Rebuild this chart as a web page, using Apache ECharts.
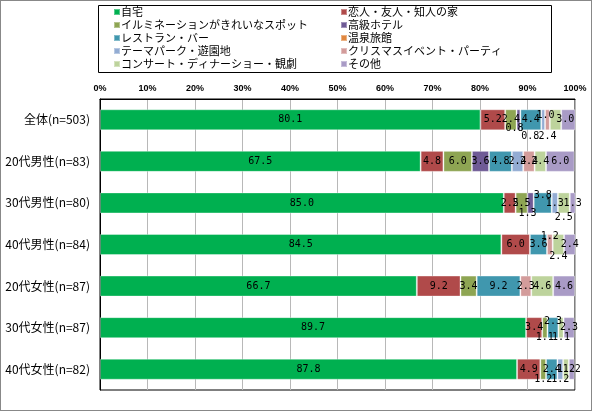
<!DOCTYPE html>
<html><head><meta charset="utf-8">
<script src="https://cdn.jsdelivr.net/npm/echarts@6/dist/echarts.min.js"></script>
<style>
html,body{margin:0;padding:0;background:#fff;}
#c{width:592px;height:411px;box-sizing:border-box;border:1px solid #888;}
</style></head>
<body><div id="c"></div>
<script>
const categories = ['全体(n=503)','20代男性(n=83)','30代男性(n=80)','40代男性(n=84)','20代女性(n=87)','30代女性(n=87)','40代女性(n=82)'];
const seriesNames = ['自宅','恋人・友人・知人の家','イルミネーションがきれいなスポット','高級ホテル','レストラン・バー','温泉旅館','テーマパーク・遊園地','クリスマスイベント・パーティ','コンサート・ディナーショー・観劇','その他'];
const jitaku     = [80.1, 67.5, 85.0, 84.5, 66.7, 89.7, 87.8];
const koibito    = [5.2, 4.8, 2.5, 6.0, 9.2, 3.4, 4.9];
const illumi     = [2.4, 6.0, 2.5, 0, 3.4, 1.1, 1.2];
const hotel      = [0.8, 3.6, 1.3, 0, 0, 0, 0];
const restaurant = [4.4, 4.8, 3.8, 3.6, 9.2, 2.3, 2.4];
const onsen      = [0, 0, 0, 0, 0, 0, 0];
const themepark  = [0.8, 2.4, 1.3, 0, 0, 0, 1.2];
const xmasEvent  = [1.0, 2.4, 0, 1.2, 2.3, 0, 0];
const concert    = [2.4, 2.4, 2.5, 2.4, 4.6, 1.1, 1.2];
const sonota     = [3.0, 6.0, 1.3, 2.4, 4.6, 2.3, 1.2];
const xTicks = ['0%','10%','20%','30%','40%','50%','60%','70%','80%','90%','100%'];

const allValues = [jitaku,koibito,illumi,hotel,restaurant,onsen,themepark,xmasEvent,concert,sonota];
const colors = ['#00B050','#B04A4A','#8EA553','#6F5B96','#4097AE','#E0873F','#93ACD3','#D39C9B','#BDD39C','#A99BC6'];
// label nudges (row,series) -> [dx,dy], emulating manually moved labels
const nudge = {
  '0,3':[-4,9], '0,6':[-13,17], '0,8':[-8,17], '0,7':[-2,-4], '0,9':[-3,0],
  '2,3':[-3,10], '2,8':[0,14], '2,4':[0,-8],
  '3,7':[0,-8], '3,8':[0,12],
  '5,2':[0,10], '5,8':[0,10], '5,4':[0,-6],
  '6,2':[0,10], '6,6':[0,10]
};

const series = allValues.map((vals, si) => ({
  name: seriesNames[si],
  type: 'bar',
  stack: 'total',
  barWidth: 21,
  itemStyle: {color: colors[si], borderColor: 'rgba(255,255,255,0.35)', borderWidth: 1},
  label: {
    show: true, position: 'inside', color: '#000',
    fontFamily: 'DejaVu Sans Mono', fontSize: 10,
    formatter: p => (p.value ? Number(p.value).toFixed(1) : '')
  },
  data: vals.map((v, ri) => {
    const o = {value: v === 0 ? null : v};
    const n = nudge[ri + ',' + si];
    if (n) o.label = {offset: n};
    return o;
  })
}));

function legendCol(names, left) {
  return {
    orient: 'vertical', left: left, top: 4.5, padding: 0,
    itemWidth: 6, itemHeight: 6, icon: 'rect', itemGap: 0,
    textStyle: {fontSize: 11, lineHeight: 13, color: '#000', fontFamily: 'Noto Sans CJK JP', padding: [0,0,0,-4]},
    data: names
  };
}

const chart = echarts.init(document.getElementById('c'), null, {renderer: 'canvas'});
chart.setOption({
  animation: false,
  legend: [
    legendCol([seriesNames[0], seriesNames[2], seriesNames[4], seriesNames[6], seriesNames[8]], 112),
    legendCol([seriesNames[1], seriesNames[3], seriesNames[5], seriesNames[7], seriesNames[9]], 339)
  ],
  graphic: [{
    type: 'rect', shape: {x: 97.5, y: 4.5, width: 453, height: 67},
    style: {fill: 'none', stroke: '#000', lineWidth: 1}, silent: true, z: -1
  }],
  grid: {left: 99, right: 16, top: 98, bottom: 20, show: true, borderColor: '#000', borderWidth: 1},
  xAxis: {
    type: 'value', position: 'top', min: 0, max: 100, interval: 10,
    axisLine: {show: true, lineStyle: {color: '#000'}},
    axisTick: {show: false},
    axisLabel: {margin: 6, fontSize: 9, fontWeight: 'bold', color: '#000', fontFamily: 'Liberation Sans',
      formatter: (v) => xTicks[Math.round(v / 10)]},
    splitLine: {show: true, lineStyle: {color: '#b8b8b8', width: 1}}
  },
  yAxis: {
    type: 'category', inverse: true, data: categories,
    axisLine: {show: true, lineStyle: {color: '#000'}},
    axisTick: {show: false},
    axisLabel: {margin: 10, fontSize: 12, color: '#000', fontFamily: 'Noto Sans CJK JP'}
  },
  series: series
});
</script></body></html>
